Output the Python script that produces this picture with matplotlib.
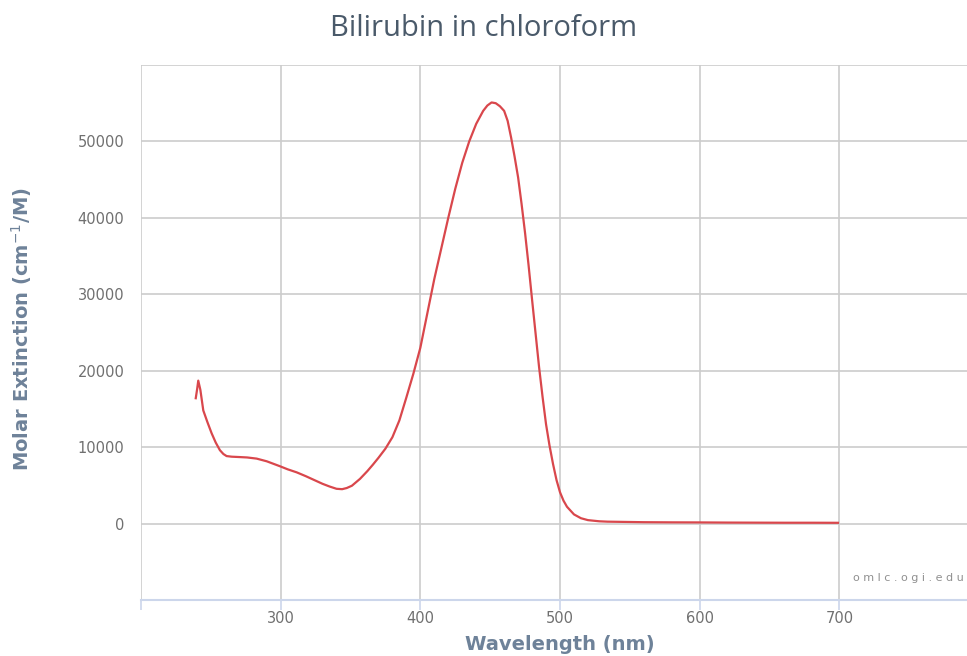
import numpy as np
import matplotlib
matplotlib.use('Agg')
import matplotlib.pyplot as plt

# values
wavelength = [239.2, 240.2, 241.0, 242.5, 244.6, 247.5, 250.6, 253.5, 256.5, 259.0, 261.3,
              265.0, 270.8, 276.0, 282.8, 290.0, 299.5, 305.0, 311.5, 318.0, 324.0, 330.0,
              335.0, 340.0, 344.0, 347.3, 351.0, 356.8, 362.0, 366.0, 370.0, 375.0, 380.0, 385.0,
              390.0, 395.0, 400.0, 405.0, 410.0, 415.0, 420.0, 425.0, 430.0, 435.0, 440.0,
              445.0, 448.0, 451.0, 454.0, 457.0, 460.0, 462.5, 465.0, 467.5, 470.0, 472.5,
              475.0, 477.5, 480.0, 482.5, 485.0, 487.5, 490.0, 492.5, 495.0, 497.5, 500.0,
              502.5, 505.0, 510.0, 515.0, 520.0, 528.0, 534.0, 545.0,
              560.0, 580.0, 600.0, 620.0, 640.0, 660.0, 680.0, 699.0]
extinction = [16400, 17600, 18700, 17500, 14800, 13300, 11800, 10600, 9600, 9100, 8830,
              8750, 8700, 8650, 8500, 8150, 7500, 7100, 6700, 6200, 5700, 5200,
              4850, 4550, 4500, 4650, 4950, 5850, 6850, 7700, 8600, 9800, 11300, 13500,
              16500, 19600, 23000, 27500, 32000, 36000, 40000, 43800, 47200, 50000, 52300,
              54000, 54700, 55100, 55000, 54600, 54000, 52700, 50500, 48000, 45300, 41800,
              38000, 33800, 29300, 24900, 20500, 16600, 13000, 10200, 7800, 5700, 4100,
              3000, 2200, 1200, 700, 450, 300, 250, 220,
              180, 160, 150, 130, 120, 110, 110, 100]

x_ticks = [200, 300, 400, 500, 600, 700, 800]
y_ticks = [-10000, 0, 10000, 20000, 30000, 40000, 50000, 60000]

fig = plt.figure(figsize=(9.67, 6.56), dpi=100)
ax = fig.add_axes([141/967, 56/656, 838/967, 535/656])

ax.plot(wavelength, extinction, color='#d9474c', lw=1.6, solid_joinstyle='round')

ax.set_xlim(200, 800)
ax.set_ylim(-10000, 60000)
ax.set_xticks(x_ticks)
ax.set_xticklabels(['' if t in (200, 800) else str(t) for t in x_ticks])
ax.set_yticks(y_ticks)
ax.set_yticklabels(['' if t in (-10000, 60000) else str(t) for t in y_ticks])

ax.grid(True, color='#cccccc', lw=1.2)
ax.set_axisbelow(True)
for s in ['top', 'right', 'left']:
    ax.spines[s].set_visible(False)
ax.spines['bottom'].set_color('#ccd6eb')
ax.spines['bottom'].set_linewidth(1.5)

ax.tick_params(axis='x', length=7, width=1.2, color='#ccd6eb', pad=1,
               labelsize=10.5, labelcolor='#707070')
ax.tick_params(axis='y', length=0, pad=12, labelsize=10.5, labelcolor='#707070')

fig.text(484/967, 1 - 29/656, 'Bilirubin in chloroform', ha='center', va='center',
         fontsize=21, color='#4a5a6a', family='Open Sans')
fig.text(560/967, 1 - 645/656, 'Wavelength (nm)', ha='center', va='center',
         fontsize=14, fontweight='bold', color='#6e8299')
fig.text(22/967, 1 - 329/656, 'Molar Extinction (cm$^{-1}$/M)', ha='center', va='center',
         rotation=90, fontsize=14, fontweight='bold', color='#6e8299')
fig.text(853/967, 1 - 578/656, 'o m l c . o g i . e d u', ha='left', va='center',
         fontsize=8, color='#909090')

fig.savefig('out.png', dpi=100)
